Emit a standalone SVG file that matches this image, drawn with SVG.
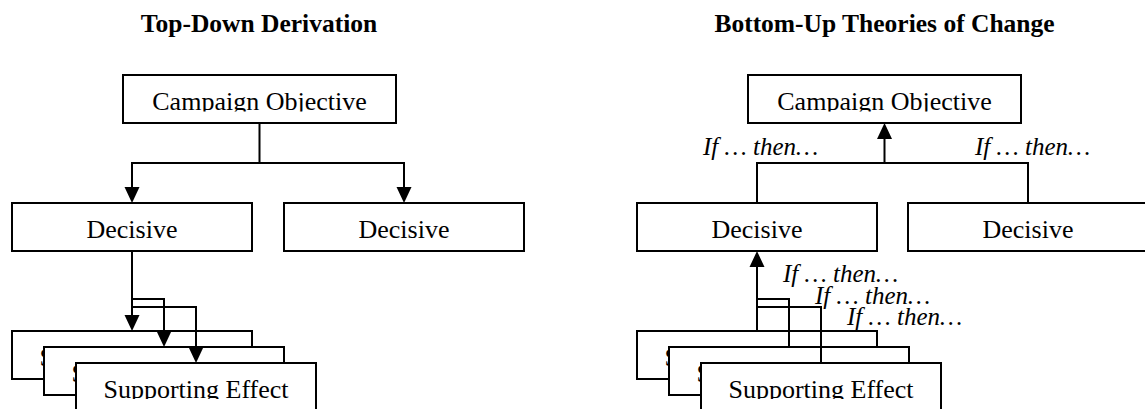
<svg xmlns="http://www.w3.org/2000/svg" width="1145" height="409" viewBox="0 0 1145 409">
  <style>
    .box { fill: #ffffff; stroke: #000000; stroke-width: 2; }
    .lbl { font-family: "Liberation Serif", "Times New Roman", serif; font-size: 26px; fill: #000000; text-anchor: middle; }
    .title { font-family: "Liberation Serif", "Times New Roman", serif; font-size: 25.5px; font-weight: bold; fill: #000000; text-anchor: middle; }
    .ift { font-family: "Liberation Serif", "Times New Roman", serif; font-size: 25px; font-style: italic; fill: #000000; }
    .wire { fill: none; stroke: #000000; stroke-width: 2; }
    .arr { fill: none; stroke: #000000; stroke-width: 2; marker-end: url(#head); }
  </style>
  <defs>
    <marker id="head" viewBox="0 0 16 16" markerWidth="16" markerHeight="16" markerUnits="userSpaceOnUse" refX="2" refY="8" orient="auto">
      <path d="M0,0.5 L16,8 L0,15.5 Z" fill="#000000"/>
    </marker>
    <clipPath id="clipTop" clipPathUnits="userSpaceOnUse">
      <rect x="0" y="0" width="1145" height="111.5"/>
    </clipPath>
    <clipPath id="clipBottom" clipPathUnits="userSpaceOnUse">
      <rect x="0" y="300" width="1145" height="99"/>
    </clipPath>
    <clipPath id="clipS1" clipPathUnits="userSpaceOnUse">
      <rect x="0" y="330" width="44" height="48"/>
      <rect x="625" y="330" width="44" height="48"/>
    </clipPath>
    <clipPath id="clipS2" clipPathUnits="userSpaceOnUse">
      <rect x="0" y="346" width="76" height="48"/>
      <rect x="625" y="346" width="76" height="48"/>
    </clipPath>
  </defs>
  <rect x="0" y="0" width="1145" height="409" fill="#ffffff"/>

  <!-- Titles -->
  <text id="title-left" class="title" x="259" y="32">Top-Down Derivation</text>
  <text id="title-right" class="title" x="884.5" y="32">Bottom-Up Theories of Change</text>

  <!-- Left: Top-Down -->
  <g id="td-objective">
    <rect class="box" x="123" y="75" width="273" height="48"/>
    <text class="lbl" x="259.5" y="109.5" clip-path="url(#clipTop)">Campaign Objective</text>
  </g>
  <g id="td-decisive-1">
    <rect class="box" x="12" y="203" width="240" height="48"/>
    <text class="lbl" x="132" y="237.5">Decisive</text>
  </g>
  <g id="td-decisive-2">
    <rect class="box" x="284" y="203" width="240" height="48"/>
    <text class="lbl" x="404" y="237.5">Decisive</text>
  </g>
  <g id="td-support-1">
    <rect class="box" x="12" y="331" width="240" height="48"/>
    <text class="lbl" x="132" y="365.5" clip-path="url(#clipS1)">Supporting Effect</text>
  </g>
  <g id="td-support-2">
    <rect class="box" x="44" y="347" width="240" height="48"/>
    <text class="lbl" x="164" y="381.5" clip-path="url(#clipS2)">Supporting Effect</text>
  </g>
  <g id="td-support-3">
    <rect class="box" x="76" y="363" width="240" height="48"/>
    <text class="lbl" x="196" y="397.5" clip-path="url(#clipBottom)">Supporting Effect</text>
  </g>

  <!-- Right: Bottom-Up -->
  <g id="bu-objective">
    <rect class="box" x="748" y="75" width="273" height="48"/>
    <text class="lbl" x="884.5" y="109.5" clip-path="url(#clipTop)">Campaign Objective</text>
  </g>
  <g id="bu-decisive-1">
    <rect class="box" x="637" y="203" width="240" height="48"/>
    <text class="lbl" x="757" y="237.5">Decisive</text>
  </g>
  <g id="bu-decisive-2">
    <rect class="box" x="908" y="203" width="240" height="48"/>
    <text class="lbl" x="1028" y="237.5">Decisive</text>
  </g>
  <g id="bu-support-1">
    <rect class="box" x="637" y="331" width="240" height="48"/>
    <text class="lbl" x="757" y="365.5" clip-path="url(#clipS1)">Supporting Effect</text>
  </g>
  <g id="bu-support-2">
    <rect class="box" x="669" y="347" width="240" height="48"/>
    <text class="lbl" x="789" y="381.5" clip-path="url(#clipS2)">Supporting Effect</text>
  </g>
  <g id="bu-support-3">
    <rect class="box" x="701" y="363" width="240" height="48"/>
    <text class="lbl" x="821" y="397.5" clip-path="url(#clipBottom)">Supporting Effect</text>
  </g>

  <!-- Connectors -->
  <g id="connectors">
    <!-- top-down -->
    <path class="wire" d="M259.5,123 V163 M131,163 H405"/>
    <path class="arr" d="M132,163 V189"/>
    <path class="arr" d="M404,163 V189"/>
    <path class="arr" d="M132,251 V317"/>
    <path class="arr" d="M132,299 H164 V333"/>
    <path class="arr" d="M132,307 H196 V349"/>
    <!-- bottom-up -->
    <path class="wire" d="M757,203 V163 H1028 V203"/>
    <path class="arr" d="M884.5,163 V137"/>
    <path class="arr" d="M757,331 V265"/>
    <path class="wire" d="M789,347 V299 H757"/>
    <path class="wire" d="M821,363 V307 H757"/>
  </g>

  <!-- If ... then labels -->
  <g id="if-then-labels">
    <text class="ift" x="703" y="155">If … then…</text>
    <text class="ift" x="975" y="155">If … then…</text>
    <text class="ift" x="783" y="282">If … then…</text>
    <text class="ift" x="815" y="303.5">If … then…</text>
    <text class="ift" x="847" y="325">If … then…</text>
  </g>
</svg>
